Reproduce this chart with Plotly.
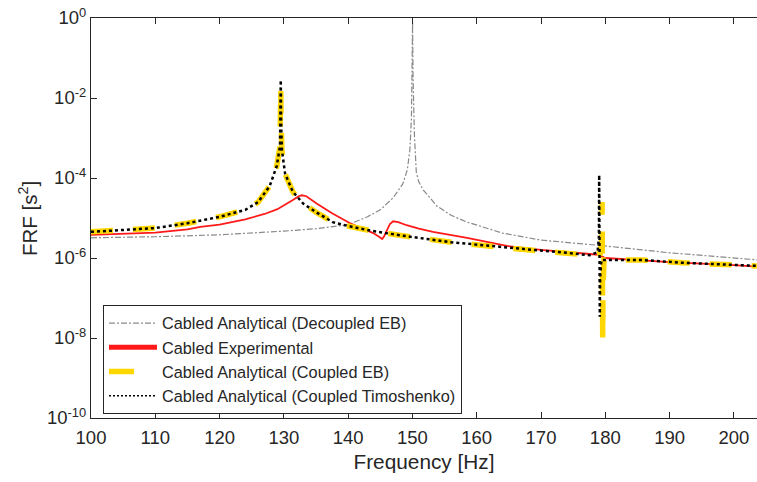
import plotly.graph_objects as go

# ---------------- data ----------------
# Cabled Analytical (Decoupled EB)
f_dec = [100, 110, 120, 125, 130, 135, 140, 143, 145, 147, 148.5, 149.2, 149.6, 149.85, 149.97, 150.02,
         150.1, 150.3, 150.6, 151.0, 151.7, 153.8, 156, 158.5, 164, 170, 180, 190, 204]
v_dec = [3.2e-6, 3.4e-6, 3.8e-6, 4.2e-6, 4.7e-6, 5.4e-6, 6.8e-6, 1.07e-5, 1.6e-5, 3.2e-5, 7.1e-5, 1.6e-4,
         5.0e-4, 3.2e-3, 6.3e-2, 0.8, 3.2e-2, 1.3e-3, 1.4e-4, 7.9e-5, 5.0e-5, 2.0e-5, 1.17e-5, 7.9e-6,
         4.2e-6, 2.8e-6, 2.0e-6, 1.35e-6, 8.9e-7]

# Cabled Experimental
f_exp = [100, 105, 110, 115, 117, 120, 124, 127, 129, 131.4, 132.3, 132.8, 133.5, 135.1, 137.5, 140.3,
         142, 143.9, 144.8, 145.3, 145.6, 146, 146.5, 147, 147.8, 149.1, 151, 153.2, 158.5, 164.7, 170,
         177.6, 179, 180, 190, 200, 204]
v_exp = [3.8e-6, 4.0e-6, 4.3e-6, 5.2e-6, 6.0e-6, 6.8e-6, 9.3e-6, 1.26e-5, 1.66e-5, 2.8e-5, 3.5e-5,
         3.7e-5, 3.5e-5, 2.3e-5, 1.32e-5, 7.4e-6, 5.6e-6, 4.2e-6, 3.4e-6, 3.0e-6, 3.5e-6, 5.0e-6, 7.1e-6,
         8.3e-6, 7.9e-6, 6.6e-6, 5.4e-6, 4.5e-6, 3.2e-6, 2.0e-6, 1.6e-6, 1.26e-6, 1.2e-6, 1.0e-6,
         7.9e-7, 6.6e-7, 6.0e-7]

# Cabled Analytical (Coupled EB)
f_ceb = [100, 105, 110, 115, 120, 124, 126, 127.8, 128.9, 129.4, 129.47, 129.52, 129.57, 129.7, 130.2,
         131.4, 133, 135, 137.6, 140, 143, 148, 155.8, 163.6, 168.7, 174, 177.6, 179.2, 179.45, 179.5,
         179.55, 179.6, 179.65, 179.8, 185.8, 192, 199.8, 204]
v_ceb = [4.5e-6, 5.0e-6, 5.6e-6, 7.4e-6, 1.07e-5, 1.6e-5, 2.5e-5, 6.3e-5, 2.0e-4, 6.3e-4, 3.2e-3,
         1.8e-2, 2.5e-3, 5.0e-4, 1.26e-4, 4.5e-5, 2.3e-5, 1.4e-5, 7.9e-6, 6.3e-6, 5.0e-6, 3.7e-6,
         2.5e-6, 1.86e-6, 1.6e-6, 1.35e-6, 1.17e-6, 1.3e-6, 3.2e-6, 2.5e-5, 1.0e-6, 9.0e-9, 2.0e-7,
         8.9e-7, 8.9e-7, 7.6e-7, 6.6e-7, 6.3e-7]

# Cabled Analytical (Coupled Timoshenko)
f_tim = [100, 105, 110, 115, 120, 124, 126, 127.8, 128.9, 129.4, 129.47, 129.52, 129.57, 129.7, 130.2,
         131.4, 133, 135, 137.6, 140, 143, 148, 155.8, 163.6, 168.7, 174, 177.6, 178.8, 179.0, 179.05,
         179.1, 179.15, 179.2, 179.4, 185.8, 192, 199.8, 204]
v_tim = [4.5e-6, 5.0e-6, 5.6e-6, 7.4e-6, 1.07e-5, 1.6e-5, 2.5e-5, 6.3e-5, 2.0e-4, 6.3e-4, 3.2e-3,
         2.8e-2, 2.5e-3, 5.0e-4, 1.26e-4, 4.5e-5, 2.3e-5, 1.4e-5, 7.9e-6, 6.3e-6, 5.0e-6, 3.7e-6,
         2.5e-6, 1.86e-6, 1.6e-6, 1.35e-6, 1.17e-6, 1.4e-6, 3.2e-6, 1.2e-4, 2.5e-6, 3.4e-8, 3.2e-7,
         8.9e-7, 8.9e-7, 7.6e-7, 6.6e-7, 6.3e-7]

x_ticks = [100, 110, 120, 130, 140, 150, 160, 170, 180, 190, 200]
y_tickvals = [1e-10, 1e-8, 1e-6, 1e-4, 1e-2, 1e0]
y_ticktext = ["10<sup>-10</sup>", "10<sup>-8</sup>", "10<sup>-6</sup>", "10<sup>-4</sup>",
              "10<sup>-2</sup>", "10<sup>0</sup>"]

names = ["Cabled Analytical (Decoupled EB)", "Cabled Experimental",
         "Cabled Analytical (Coupled EB)", "Cabled Analytical (Coupled Timoshenko)"]

# ---------------- figure ----------------
GRAY = "#8a8a8a"
RED = "#ff1a1a"
YEL = "#ffd700"
BLK = "#000000"
AX = "#262626"

fig = go.Figure()
fig.add_trace(go.Scatter(x=f_dec, y=v_dec, mode="lines", showlegend=False,
                         line=dict(color=GRAY, width=1.2, dash="6px,2px,2px,2px")))
fig.add_trace(go.Scatter(x=f_exp, y=v_exp, mode="lines", showlegend=False,
                         line=dict(color=RED, width=1.8)))
fig.add_trace(go.Scatter(x=f_ceb, y=v_ceb, mode="lines", showlegend=False,
                         line=dict(color=YEL, width=5.5, dash="22px,20px")))
fig.add_trace(go.Scatter(x=f_tim, y=v_tim, mode="lines", showlegend=False,
                         line=dict(color=BLK, width=2.5, dash="3px,3px")))

# legend entries
leg_styles = [dict(color=GRAY, width=1.2, dash="6px,2px,2px,2px"),
              dict(color=RED, width=5),
              dict(color=YEL, width=5.5, dash="25px,60px"),
              dict(color=BLK, width=1.5, dash="2px,2px")]
for n, st in zip(names, leg_styles):
    fig.add_trace(go.Scatter(x=[None], y=[None], mode="lines", name=n, line=st))

fig.update_layout(
    width=757, height=482,
    margin=dict(l=91, r=0, t=18, b=64),
    paper_bgcolor="white", plot_bgcolor="white",
    font=dict(family="Liberation Sans, Arial, sans-serif", color=AX, size=18.5),
    showlegend=True,
    legend=dict(x=0.018, y=0.2825, xanchor="left", yanchor="top",
                bgcolor="white", bordercolor=AX, borderwidth=1,
                font=dict(size=16.3, color=AX), itemwidth=48,
                tracegroupgap=0),
)
fig.update_xaxes(range=[100, 203.6], tickvals=x_ticks, ticks="inside", ticklen=6,
                 tickcolor=AX, showline=True, linecolor=AX, linewidth=1.2,
                 mirror="ticks", showgrid=False, zeroline=False, ticklabelstandoff=3,
                 title=dict(text="Frequency [Hz]", font=dict(size=20.8), standoff=7))
fig.update_yaxes(type="log", range=[-10, 0], tickvals=y_tickvals, ticktext=y_ticktext,
                 ticks="inside", ticklen=6, tickcolor=AX, showline=True, linecolor=AX,
                 linewidth=1.2, showgrid=False, zeroline=False)

fig.add_annotation(text="FRF [s<sup>2</sup>]", textangle=-90, xref="paper", yref="paper",
                   x=-0.0946, y=0.5, xanchor="center", yanchor="middle", showarrow=False,
                   font=dict(size=20.5, color=AX))

fig.write_html("out.html")
